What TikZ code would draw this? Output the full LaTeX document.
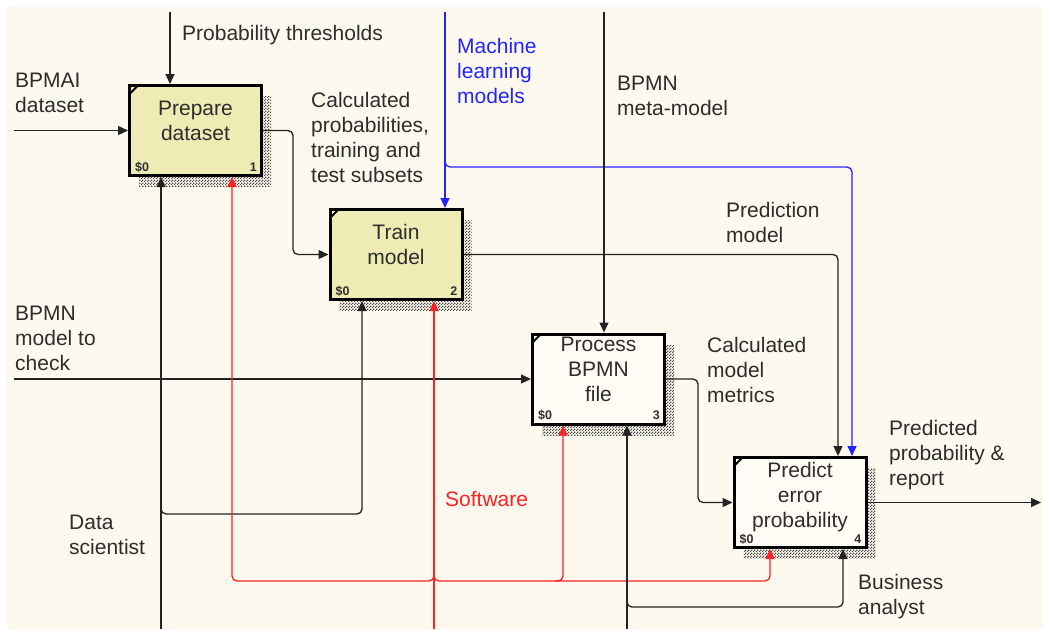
\documentclass[tikz,border=0pt]{standalone}
\usepackage{fontspec}
\setmainfont{Liberation Sans}
\usetikzlibrary{arrows.meta,patterns,calc,shadows}
\definecolor{bgc}{RGB}{253,249,239}
\definecolor{boxy}{RGB}{238,236,180}
\definecolor{boxw}{RGB}{255,253,246}
\definecolor{ink}{RGB}{35,35,35}
\definecolor{txt}{RGB}{45,45,45}
\definecolor{blu}{RGB}{35,35,255}
\definecolor{rd}{RGB}{255,35,35}
\pgfdeclarepatternformonly{checker}{\pgfpointorigin}{\pgfpoint{3pt}{3pt}}{\pgfpoint{3pt}{3pt}}{%
  \pgfpathrectangle{\pgfpointorigin}{\pgfpoint{1.5pt}{1.5pt}}%
  \pgfpathrectangle{\pgfpoint{1.5pt}{1.5pt}}{\pgfpoint{1.5pt}{1.5pt}}%
  \pgfusepath{fill}}
\begin{document}
\begin{tikzpicture}[x=1pt,y=-1pt,
  box/.style={draw=black, line width=3pt, minimum width=132pt, minimum height=90pt, inner sep=0pt,
    general shadow={shadow xshift=9.5pt, shadow yshift=-11pt, pattern=checker, pattern color=black!70}},
  btxt/.style={align=center, inner sep=0pt, font=\fontsize{21}{25}\selectfont, text=txt},
  cost/.style={inner sep=0pt, font=\fontsize{12.5}{14}\selectfont\bfseries, text=txt},
  lbl/.style={anchor=north west, align=left, inner sep=0pt, font=\fontsize{21}{25}\selectfont, text=txt},
  con/.style={draw=ink, line width=1.3pt, rounded corners=5pt},
  arr/.style={con, -{Triangle[length=10pt,width=9pt]}},
  cornermark/.style={line width=1.8pt, line cap=round}
]
\useasboundingbox (0,0) rectangle (1043,629);
\fill[white] (0,0) rectangle (1043,629);
\fill[bgc] (7,7) rectangle (1043,629);

% boxes
\node[box, fill=boxy] (b1) at (195.5,130.5) {};
\node[box, fill=boxy] (b2) at (396,254.5) {};
\node[box, fill=boxw] (b3) at (598.5,379) {};
\node[box, fill=boxw] (b4) at (800,502.5) {};

\node[btxt] (b1t) at ([yshift=10pt]b1.center) {Prepare\\dataset};
\node[btxt] (b2t) at ([yshift=10pt]b2.center) {Train\\model};
\node[btxt] (b3t) at ([yshift=10pt]b3.center) {Process\\BPMN\\file};
\node[btxt] (b4t) at ([yshift=5pt]b4.center) {Predict\\error\\probability};

\foreach \b/\n in {b1/1,b2/2,b3/3,b4/4}{
  \node[cost, anchor=base west] (\b c) at ($(\b.south west)+(7,-6)$) {\$0};
  \node[cost, anchor=base east] (\b n) at ($(\b.south east)+(-6,-6)$) {\n};
  \draw[cornermark] ($(\b.north west)+(1.5,10)$) -- ($(\b.north west)+(10,1.5)$);
}

% free ends
\coordinate (pthr) at (170,12);
\coordinate (bpmai) at (14,130.5);
\coordinate (ml) at (445,12);
\coordinate (meta) at (604,12);
\coordinate (chk) at (14,379);
\coordinate (out) at (1041,502.5);
\coordinate (ds) at (161,629);
\coordinate (sw) at (434,629);
\coordinate (ba) at (627,629);

% connectors
\draw[arr] (pthr) -- (pthr |- b1.north);
\draw[arr] (bpmai) -- (b1.west);
\draw[arr] (b1.east) -| (293,200) |- (b2.west);
\draw[arr, draw=blu] (ml) -- (ml |- b2.north);
\draw[arr, draw=blu] (445,160) -- (445,167) -| ([xshift=52pt]b4.north);
\draw[arr] (meta) -- (meta |- b3.north);
\draw[arr] (b2.east) -| ([xshift=38pt]b4.north);
\draw[arr] (chk) -- (b3.west);
\draw[arr] (b3.east) -| (698,440) |- (b4.west);
\draw[arr] (b4.east) -- (out);
\draw[arr] (ds) -- (ds |- b1.south);
\draw[arr] (161,508) -- (161,514) -| ([xshift=-34pt]b2.south);
\draw[arr, draw=rd] (sw) -- (sw |- b2.south);
\draw[arr, draw=rd] (434,575) -- (434,581) -| ([xshift=36.5pt]b1.south);
\draw[arr, draw=rd] (434,575) -- (434,581) -| ([xshift=-30pt]b4.south);
\draw[arr, draw=rd] (555,581) -- (563,581) -- ([xshift=-35.5pt]b3.south);
\draw[arr] (ba) -- (ba |- b3.south);
\draw[arr] (627,601) -- (627,607) -| ([xshift=43pt]b4.south);

% labels
\node[lbl] (l1) at (182,25) {Probability thresholds};
\node[lbl] (l2) at (15,73) {BPMAI\\dataset};
\node[lbl] (l3) at (311,92) {Calculated\\probabilities,\\training and\\test subsets};
\node[lbl, text=blu] (l4) at (457,38) {Machine\\learning\\models};
\node[lbl] (l5) at (617,76) {BPMN\\meta-model};
\node[lbl] (l6) at (726,202) {Prediction\\model};
\node[lbl] (l7) at (15,306) {BPMN\\model to\\check};
\node[lbl] (l8) at (707,337) {Calculated\\model\\metrics};
\node[lbl] (l9) at (889,420) {Predicted\\probability \&\\report};
\node[lbl] (l10) at (858,574) {Business\\analyst};
\node[lbl] (l11) at (69,515) {Data\\scientist};
\node[lbl, text=rd] (l12) at (445,491) {Software};
\end{tikzpicture}
\end{document}
